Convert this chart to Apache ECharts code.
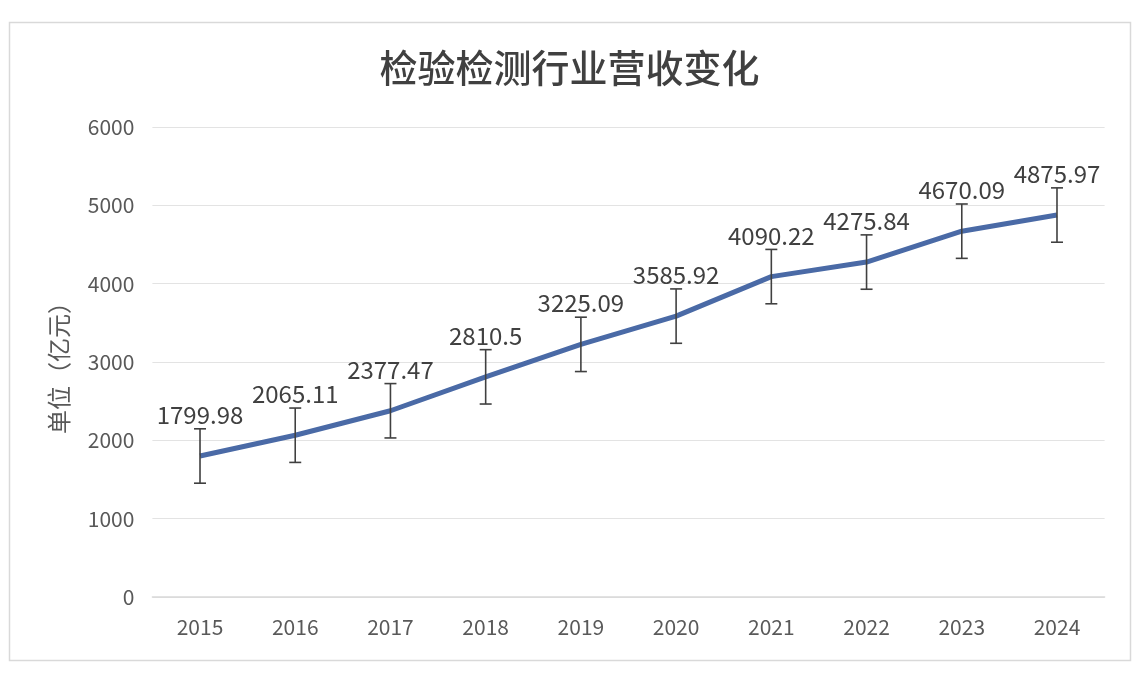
<!DOCTYPE html>
<html><head><meta charset="utf-8">
<script src="https://cdn.jsdelivr.net/npm/echarts@6/dist/echarts.min.js"></script>
<style>html,body{margin:0;padding:0;background:#fff;}#c{width:1139px;height:674px;}</style>
</head><body><div id="c"></div>
<script>
var categories = ['2015','2016','2017','2018','2019','2020','2021','2022','2023','2024'];
var revenue = [1799.98, 2065.11, 2377.47, 2810.5, 3225.09, 3585.92, 4090.22, 4275.84, 4670.09, 4875.97];
var errorAmount = [347, 347, 347, 347, 347, 347, 347, 347, 347, 347];
var yTicks = [0, 1000, 2000, 3000, 4000, 5000, 6000];

var errData = revenue.map(function(v, i){ return [i, v - errorAmount[i], v + errorAmount[i]]; });
var font = '"Noto Sans CJK SC","DejaVu Sans",sans-serif';
var chart = echarts.init(document.getElementById('c'));
chart.setOption({
  backgroundColor: '#fff',
  animation: false,
  title: {
    text: '检验检测行业营收变化', left: 'center', top: 44,
    textStyle: {fontSize: 38, fontWeight: 500, color: '#404040', fontFamily: font}
  },
  graphic: [{
    type: 'rect', shape: {x: 9.5, y: 22.5, width: 1121, height: 638},
    style: {fill: 'none', stroke: '#d9d9d9', lineWidth: 1.5}, z: -1
  }],
  grid: {left: 152.4, right: 34.4, top: 127, bottom: 77},
  xAxis: {
    type: 'category', data: categories, boundaryGap: true,
    axisLine: {show: true, lineStyle: {color: '#d9d9d9', width: 1.5}},
    axisTick: {show: false},
    axisLabel: {color: '#595959', fontSize: 21, margin: 20, fontFamily: font}
  },
  yAxis: {
    type: 'value', min: yTicks[0], max: yTicks[yTicks.length-1], interval: 1000,
    name: '单位（亿元）', nameLocation: 'middle', nameGap: 82, nameRotate: 90,
    nameTextStyle: {color: '#595959', fontSize: 24, fontFamily: font},
    axisLine: {show: false}, axisTick: {show: false},
    axisLabel: {color: '#595959', fontSize: 21, margin: 18, fontFamily: font,
      formatter: function(v){ return String(v); }},
    splitLine: {lineStyle: {color: '#e3e3e3', width: 1.2}}
  },
  series: [{
    type: 'line', data: revenue, smooth: false,
    symbol: 'circle', symbolSize: 2, showSymbol: true,
    itemStyle: {color: 'rgba(74,106,166,0)', borderWidth: 0},
    lineStyle: {color: '#4a6aa6', width: 5},
    label: {show: true, position: 'top', distance: 28, color: '#404040', fontSize: 24, fontFamily: font},
    labelLayout: {hideOverlap: false},
    z: 3
  }, {
    type: 'custom', data: errData, z: 4, silent: true,
    renderItem: function(params, api){
      var x = api.value(0);
      var lo = api.coord([x, api.value(1)]);
      var hi = api.coord([x, api.value(2)]);
      var w = 6;
      var st = {stroke: '#404040', lineWidth: 1.6, fill: 'none'};
      return {type: 'group', children: [
        {type: 'line', shape: {x1: lo[0], y1: lo[1], x2: hi[0], y2: hi[1]}, style: st},
        {type: 'line', shape: {x1: lo[0]-w, y1: lo[1], x2: lo[0]+w, y2: lo[1]}, style: st},
        {type: 'line', shape: {x1: hi[0]-w, y1: hi[1], x2: hi[0]+w, y2: hi[1]}, style: st}
      ]};
    }
  }]
});
</script></body></html>
